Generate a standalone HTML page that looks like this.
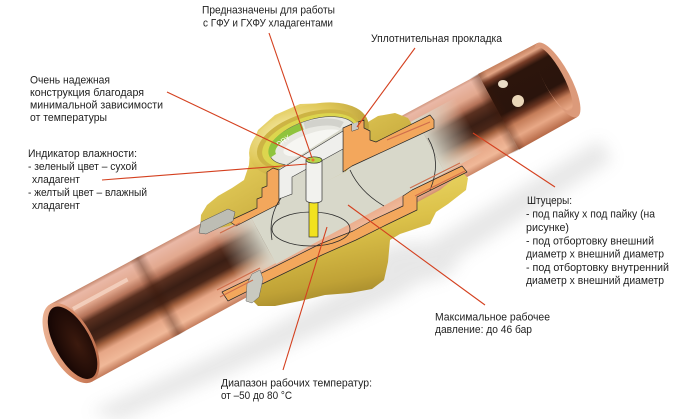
<!DOCTYPE html>
<html><head><meta charset="utf-8">
<style>
html,body{margin:0;padding:0;background:#ffffff;}
svg{display:block;}
.t{font-family:"Liberation Sans","DejaVu Sans",sans-serif;font-size:11px;fill:#1e1e1e;}
</style></head><body>
<svg width="680" height="419" viewBox="0 0 680 419" xmlns="http://www.w3.org/2000/svg">
<defs>
<filter id="bl" x="-30%" y="-30%" width="160%" height="160%"><feGaussianBlur stdDeviation="8"/></filter>
<linearGradient id="cu" gradientUnits="userSpaceOnUse" x1="0" y1="-44" x2="0" y2="44">
 <stop offset="0" stop-color="#c4866c"/>
 <stop offset="0.05" stop-color="#eab8a6"/>
 <stop offset="0.2" stop-color="#e2a88e"/>
 <stop offset="0.3" stop-color="#b47258"/>
 <stop offset="0.37" stop-color="#5a3020"/>
 <stop offset="0.5" stop-color="#3a1e14"/>
 <stop offset="0.6" stop-color="#4a2618"/>
 <stop offset="0.68" stop-color="#a4623f"/>
 <stop offset="0.76" stop-color="#e6a686"/>
 <stop offset="0.9" stop-color="#f0b898"/>
 <stop offset="1" stop-color="#c27a5a"/>
</linearGradient>
<linearGradient id="cuR" gradientUnits="userSpaceOnUse" x1="0" y1="-42" x2="0" y2="42">
 <stop offset="0" stop-color="#c88462"/>
 <stop offset="0.06" stop-color="#e2a484"/>
 <stop offset="0.12" stop-color="#7a3e28"/>
 <stop offset="0.2" stop-color="#2c150c"/>
 <stop offset="0.55" stop-color="#2a140c"/>
 <stop offset="0.64" stop-color="#6a3420"/>
 <stop offset="0.72" stop-color="#c47c58"/>
 <stop offset="0.86" stop-color="#e8a886"/>
 <stop offset="1" stop-color="#b86c4a"/>
</linearGradient>
<linearGradient id="fadeL" gradientUnits="userSpaceOnUse" x1="176" y1="0" x2="220" y2="0">
 <stop offset="0" stop-color="#d8d8ca" stop-opacity="0"/><stop offset="1" stop-color="#d8d8ca" stop-opacity="1"/>
</linearGradient>
<linearGradient id="fadeR" gradientUnits="userSpaceOnUse" x1="408" y1="0" x2="455" y2="0">
 <stop offset="0" stop-color="#d8d8ca" stop-opacity="1"/><stop offset="1" stop-color="#d8d8ca" stop-opacity="0"/>
</linearGradient>
<linearGradient id="rim" x1="0" y1="0" x2="1" y2="1">
 <stop offset="0" stop-color="#f2c2a6"/><stop offset="0.5" stop-color="#d88c68"/><stop offset="1" stop-color="#b06040"/>
</linearGradient>
<radialGradient id="hole" cx="0.6" cy="0.55" r="0.6">
 <stop offset="0" stop-color="#3c1a0e"/><stop offset="1" stop-color="#160604"/>
</radialGradient>
<linearGradient id="shL" gradientUnits="userSpaceOnUse" x1="90" y1="0" x2="108" y2="0">
 <stop offset="0" stop-color="#3a1608" stop-opacity="0"/><stop offset="0.5" stop-color="#3a1608" stop-opacity="0.35"/><stop offset="1" stop-color="#3a1608" stop-opacity="0"/>
</linearGradient>
<linearGradient id="shR" gradientUnits="userSpaceOnUse" x1="476" y1="0" x2="494" y2="0">
 <stop offset="0" stop-color="#3a1608" stop-opacity="0"/><stop offset="0.5" stop-color="#3a1608" stop-opacity="0.35"/><stop offset="1" stop-color="#3a1608" stop-opacity="0"/>
</linearGradient>
<linearGradient id="brU" x1="0" y1="0" x2="1" y2="1">
 <stop offset="0" stop-color="#f4e69a"/><stop offset="0.35" stop-color="#e0c856"/><stop offset="0.7" stop-color="#c4a63a"/><stop offset="1" stop-color="#967a26"/>
</linearGradient>
<linearGradient id="brL" x1="0.2" y1="0" x2="0.5" y2="1">
 <stop offset="0" stop-color="#f0de70"/><stop offset="0.45" stop-color="#dcc24a"/><stop offset="0.8" stop-color="#c0a236"/><stop offset="1" stop-color="#9a8028"/>
</linearGradient>
<radialGradient id="cap" cx="0.35" cy="0.3" r="0.8">
 <stop offset="0" stop-color="#f8eeb0"/><stop offset="0.5" stop-color="#e0c858"/><stop offset="1" stop-color="#b09430"/>
</radialGradient>
</defs>

<rect width="680" height="419" fill="#ffffff"/>

<!-- shadows -->
<g filter="url(#bl)" opacity="0.2">
 <polygon points="90,412 250,338 430,242 600,140 612,160 440,270 395,298 270,355 120,420" fill="#8a8a8a"/>
 <ellipse cx="415" cy="262" rx="42" ry="20" fill="#8a8a8a"/>
</g>

<!-- copper pipe (local coordinates along axis) -->
<g transform="translate(71,343) rotate(-28.4)">
 <polygon points="0,-44 553,-42 553,42 0,44" fill="url(#cu)"/>
 <polygon points="486,-43 553,-42 553,42 486,43" fill="url(#cuR)"/>
 <ellipse cx="553" cy="0" rx="13" ry="42" fill="#dc9a7a"/>
 <ellipse cx="550" cy="-3" rx="10" ry="36" fill="url(#cuR)"/>
 <rect x="476" y="-43" width="18" height="86" fill="url(#shR)"/>
 <rect x="90" y="-44" width="18" height="88" fill="url(#shL)"/>
 <rect x="18" y="-31" width="62" height="4" fill="#f8dccc" opacity="0.7"/>
 <ellipse cx="0" cy="0" rx="22" ry="44" fill="url(#rim)"/>
 <ellipse cx="1.5" cy="0.5" rx="18" ry="40" fill="url(#hole)"/>
 <rect x="176" y="-33" width="42" height="60" fill="url(#fadeL)"/>
 <rect x="218" y="-33" width="192" height="61" fill="#d8d8ca"/>
 <rect x="410" y="-33" width="45" height="61" fill="url(#fadeR)"/>
</g>

<!-- lower brass body -->
<polygon points="252,300 256,288 322,250 355,236 385,221 412,205 440,190 462,172 468,178 466,190 448,204 436,212 430,224 400,234 390,240 388,262 384,280 372,289 350,293 325,295 300,301 275,306 258,306" fill="url(#brL)"/>

<!-- upper brass body -->
<polygon points="200,232 201,215 207,205 218,196 232,188 244,180 249,165 250,150 258,130 275,115 300,104 330,103 355,110 368,122 378,116 395,113 408,118 413,126 413,134 380,150 360,158 345,172 277,205 229,226" fill="url(#brU)"/>

<!-- sight glass cap -->
<g transform="translate(309,140) rotate(-18)">
 <ellipse rx="62" ry="34" fill="url(#cap)"/>
 <ellipse rx="54" ry="27" fill="#cdb444"/>
 <ellipse cx="1" cy="1" rx="50" ry="24" fill="#dcd64e"/>
 <ellipse cx="3" cy="2" rx="45" ry="21" fill="#e8e8e2" stroke="#555" stroke-width="0.6"/>
 <path d="M-39,4 A40,17 0 0 1 -2,-15" stroke="#8fc43e" stroke-width="7" fill="none"/>
 <path d="M0,-15 A40,17 0 0 1 36,-4" stroke="#d2d2cc" stroke-width="7" fill="none"/>
 <ellipse cx="3" cy="4" rx="31" ry="10" fill="#f6f6f2"/>
 <text x="-31" y="-3" font-family="Liberation Sans, sans-serif" font-size="7" fill="#ffffff" transform="rotate(-16 -31 -3)">DRY</text>
</g>

<!-- cut chamber under cap -->
<polygon points="277,170 343,128 345,128 345,172 277,206" fill="#d8d8ca"/>

<!-- orange cut walls -->
<g fill="#f3a75c" stroke="#2a2a2a" stroke-width="0.7" stroke-linejoin="round">
 <polygon points="222,292 272,268 320,244 353,231 373,220 403,206 403,196 412,190 462,166 467,172 417,197 417,210 386,225 356,240 322,255 260,285 228,301"/>
 <polygon points="229,221 257,208 257,199 262,197 262,188 267,186 267,172 273,168 279,170 279,204 236,226"/>
 <polygon points="343,128 352,124 352,131 358,129 358,122 364,120 364,128 370,131 370,140 376,142 430,115 434,120 434,128 365,160 352,166 343,172"/>
</g>
<polygon points="352,124 358,122 358,129 352,131" fill="#c8c8c4"/>

<!-- glass slab -->
<polygon points="279,170 343,131 343,149 292,177 292,194 279,199" fill="#efefec" stroke="#333" stroke-width="0.6"/>

<!-- chamber outlines -->
<g fill="none" stroke="#2a2a2a" stroke-width="0.8">
 <ellipse cx="311" cy="229" rx="39" ry="17"/>
 <path d="M281,198 Q268,216 272,240"/>
 <path d="M350,170 Q360,192 384,206"/>
 <path d="M428,138 Q442,162 430,190"/>
</g>

<!-- indicator -->
<rect x="309" y="199" width="9" height="38" fill="#f2e21e" stroke="#333" stroke-width="0.7"/>
<path d="M306,160 L306,200 A8,3 0 0 0 322,200 L322,160 Z" fill="#f2f2ee" stroke="#333" stroke-width="0.7"/>
<ellipse cx="314" cy="160" rx="8" ry="3.2" fill="#b6d64c" stroke="#333" stroke-width="0.7"/>
<circle cx="313" cy="160" r="1.5" fill="#e87830"/>

<!-- collars -->
<polygon points="199,233 201,222 228,209 235,212 233,221 206,234" fill="#bdbdb4" stroke="#555" stroke-width="0.5"/>
<polygon points="246,301 247,284 252,274 260,270 263,279 259,297 252,303" fill="#c9c9c0" stroke="#666" stroke-width="0.5"/>

<!-- thin copper lines -->
<g stroke="#cf6e4c" stroke-width="1.2" fill="none">
 <line x1="220" y1="233" x2="240" y2="223"/>
 <line x1="217" y1="290" x2="260" y2="268"/>
 <line x1="220" y1="297" x2="253" y2="280"/>
 <line x1="387" y1="140" x2="430" y2="122"/>
 <line x1="410" y1="188" x2="460" y2="163"/>
 <line x1="415" y1="196" x2="465" y2="171"/>
</g>

<!-- highlights on right socket -->
<ellipse cx="503" cy="84" rx="5" ry="4" fill="#fff2dc" opacity="0.9"/>
<ellipse cx="518" cy="101" rx="6" ry="6" fill="#ffeccc" opacity="0.9"/>

<!-- leader lines -->
<g stroke="#d4401f" stroke-width="1.1" fill="none">
 <line x1="269" y1="33" x2="312" y2="158"/>
 <line x1="167" y1="92" x2="310" y2="160"/>
 <line x1="102" y1="180" x2="307" y2="164"/>
 <line x1="415" y1="48" x2="357" y2="127"/>
 <line x1="473" y1="133" x2="555" y2="187"/>
 <line x1="348" y1="205" x2="485" y2="305"/>
 <line x1="283" y1="370" x2="327" y2="227"/>
</g>

<!-- labels -->
<text class="t" x="202" y="13.5" textLength="133" lengthAdjust="spacingAndGlyphs">Предназначены для работы</text>
<text class="t" x="203" y="26.5" textLength="130" lengthAdjust="spacingAndGlyphs">с ГФУ и ГХФУ хладагентами</text>
<text class="t" x="371" y="42" textLength="131" lengthAdjust="spacingAndGlyphs">Уплотнительная прокладка</text>
<text class="t" x="30" y="83.5" textLength="80" lengthAdjust="spacingAndGlyphs">Очень надежная</text>
<text class="t" x="30" y="96" textLength="114" lengthAdjust="spacingAndGlyphs">конструкция благодаря</text>
<text class="t" x="30" y="108.5" textLength="133" lengthAdjust="spacingAndGlyphs">минимальной зависимости</text>
<text class="t" x="30" y="121" textLength="77" lengthAdjust="spacingAndGlyphs">от температуры</text>
<text class="t" x="28" y="157" textLength="109" lengthAdjust="spacingAndGlyphs">Индикатор влажности:</text>
<text class="t" x="28" y="170" textLength="109" lengthAdjust="spacingAndGlyphs">- зеленый цвет – сухой</text>
<text class="t" x="32" y="183" textLength="48" lengthAdjust="spacingAndGlyphs">хладагент</text>
<text class="t" x="28" y="196" textLength="119" lengthAdjust="spacingAndGlyphs">- желтый цвет – влажный</text>
<text class="t" x="32" y="209" textLength="48" lengthAdjust="spacingAndGlyphs">хладагент</text>
<text class="t" x="527" y="204" textLength="45" lengthAdjust="spacingAndGlyphs">Штуцеры:</text>
<text class="t" x="526" y="217.5" textLength="129" lengthAdjust="spacingAndGlyphs">- под пайку х под пайку (на</text>
<text class="t" x="526" y="231" textLength="43" lengthAdjust="spacingAndGlyphs">рисунке)</text>
<text class="t" x="526" y="244.5" textLength="128" lengthAdjust="spacingAndGlyphs">- под отбортовку внешний</text>
<text class="t" x="526" y="257.5" textLength="138" lengthAdjust="spacingAndGlyphs">диаметр х внешний диаметр</text>
<text class="t" x="526" y="271" textLength="143" lengthAdjust="spacingAndGlyphs">- под отбортовку внутренний</text>
<text class="t" x="526" y="284" textLength="138" lengthAdjust="spacingAndGlyphs">диаметр х внешний диаметр</text>
<text class="t" x="435" y="320.5" textLength="115" lengthAdjust="spacingAndGlyphs">Максимальное рабочее</text>
<text class="t" x="435" y="333" textLength="97" lengthAdjust="spacingAndGlyphs">давление: до 46 бар</text>
<text class="t" x="221" y="386.5" textLength="151" lengthAdjust="spacingAndGlyphs">Диапазон рабочих температур:</text>
<text class="t" x="221" y="399" textLength="71" lengthAdjust="spacingAndGlyphs">от –50 до 80 °C</text>
</svg>
</body></html>
